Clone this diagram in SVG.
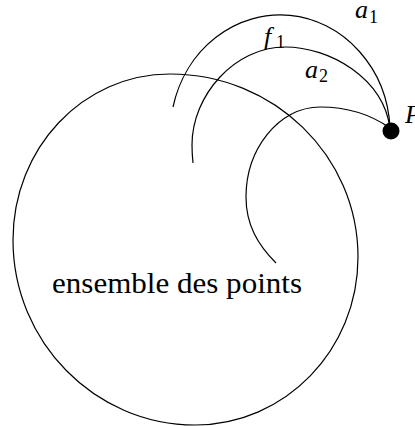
<svg xmlns="http://www.w3.org/2000/svg" width="415" height="426" viewBox="0 0 415 426">
<style>
.ln{fill:none;stroke:#000;stroke-width:1.2}
.m{font-family:"Liberation Serif","DejaVu Serif",serif;font-style:italic;font-size:26px;fill:#000}
.s{font-family:"Liberation Serif","DejaVu Serif",serif;font-size:18px;fill:#000}
.t{font-family:"Liberation Serif","DejaVu Serif",serif;font-size:29px;fill:#000}
</style>
<rect width="415" height="426" fill="#fff"/>
<g id="ensemble">
<path class="ln" d="M170 74 C274 74 358 156 358 257 C358 350 285 425 195 425 C95 425 13 342 13 240 C13 148 83 74 170 74 Z"/>
<text class="t" x="52" y="293" textLength="250" lengthAdjust="spacingAndGlyphs">ensemble des points</text>
</g>
<g id="connectors">
<path id="a1" class="ln" d="M390 128 A110 119 0 0 0 173 107"/>
<path id="f1" class="ln" d="M390 128 C383 78 330 47 285 47 C235 47 192 95 192 145 C192 152 192.5 158 193 163"/>
<path id="a3" class="ln" d="M390 128 C370 114 345 107 320 107 C278 107 246 150 246 197 C246 225 258 245 276 263"/>
</g>
<g id="labels">
<text class="m" x="355" y="18">a</text><text class="s" x="369" y="23">1</text>
<text class="m" x="264" y="45">f</text><text class="s" x="276" y="48">1</text>
<text class="m" x="305" y="78">a</text><text class="s" x="319" y="82">2</text>
</g>
<g id="P">
<circle cx="391" cy="131" r="8.5" fill="#000"/>
<text class="m" x="405" y="123">P</text>
</g>
</svg>
